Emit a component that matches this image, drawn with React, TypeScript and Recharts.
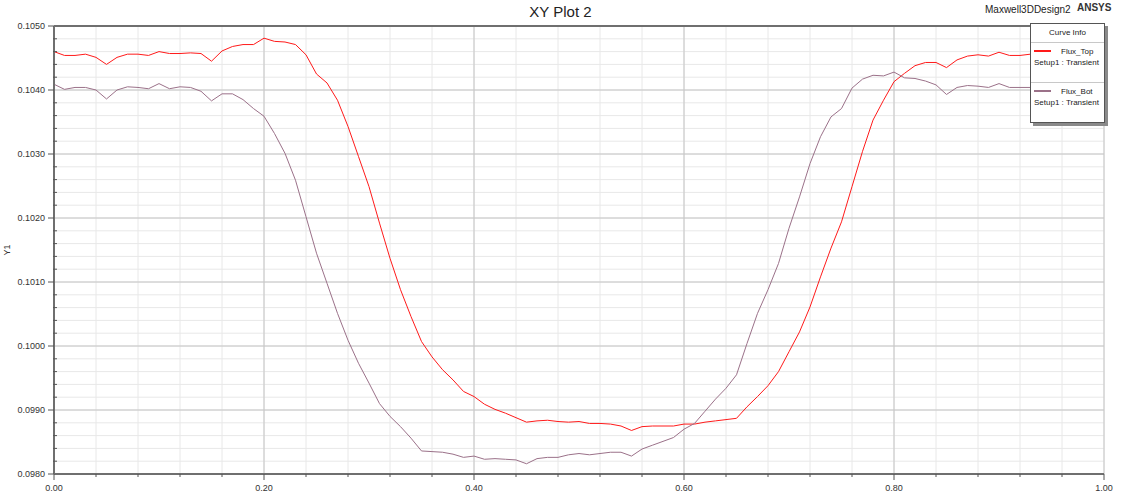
import React from 'react';
import { CartesianGrid, Legend, Line, LineChart, ReferenceLine, XAxis, YAxis } from 'recharts';

// the page keeps the browser's 8px body margin otherwise
if (typeof document !== 'undefined') document.body.style.margin = '0';

// time axis (s) – sampled every 0.01
const TIME = [
  0.0, 0.01, 0.02, 0.03, 0.04, 0.05, 0.06, 0.07, 0.08, 0.09,
  0.1, 0.11, 0.12, 0.13, 0.14, 0.15, 0.16, 0.17, 0.18, 0.19,
  0.2, 0.21, 0.22, 0.23, 0.24, 0.25, 0.26, 0.27, 0.28, 0.29,
  0.3, 0.31, 0.32, 0.33, 0.34, 0.35, 0.36, 0.37, 0.38, 0.39,
  0.4, 0.41, 0.42, 0.43, 0.44, 0.45, 0.46, 0.47, 0.48, 0.49,
  0.5, 0.51, 0.52, 0.53, 0.54, 0.55, 0.56, 0.57, 0.58, 0.59,
  0.6, 0.61, 0.62, 0.63, 0.64, 0.65, 0.66, 0.67, 0.68, 0.69,
  0.7, 0.71, 0.72, 0.73, 0.74, 0.75, 0.76, 0.77, 0.78, 0.79,
  0.8, 0.81, 0.82, 0.83, 0.84, 0.85, 0.86, 0.87, 0.88, 0.89,
  0.9, 0.91, 0.92, 0.93, 0.94, 0.95, 0.96, 0.97, 0.98, 0.99,
  1.0,
];

const FLUX_TOP = [
  0.10460, 0.10454, 0.10454, 0.10456, 0.10451, 0.10440, 0.10451, 0.10456, 0.10456, 0.10454,
  0.10460, 0.10457, 0.10457, 0.10458, 0.10457, 0.10445, 0.10461, 0.10468, 0.10471, 0.10471,
  0.10481, 0.10476, 0.10475, 0.10471, 0.10455, 0.10425, 0.10411, 0.10384, 0.10343, 0.10296,
  0.10249, 0.10192, 0.10137, 0.10088, 0.10046, 0.10007, 0.09983, 0.09963, 0.09947, 0.09929,
  0.09921, 0.09909, 0.09901, 0.09895, 0.09888, 0.09881, 0.09883, 0.09884, 0.09882, 0.09881,
  0.09882, 0.09879, 0.09879, 0.09878, 0.09875, 0.09868, 0.09874, 0.09875, 0.09875, 0.09875,
  0.09878, 0.09878, 0.09881, 0.09883, 0.09885, 0.09887, 0.09905, 0.09921, 0.09938, 0.09960,
  0.09991, 0.10022, 0.10061, 0.10108, 0.10153, 0.10194, 0.10249, 0.10304, 0.10353, 0.10384,
  0.10413, 0.10426, 0.10438, 0.10443, 0.10443, 0.10435, 0.10447, 0.10453, 0.10455, 0.10453,
  0.10459, 0.10454, 0.10454, 0.10456, 0.10455, 0.10457, 0.10456, 0.10458, 0.10457, 0.10456,
  0.10458,
];

const FLUX_BOT = [
  0.10409, 0.10401, 0.10404, 0.10404, 0.10400, 0.10386, 0.10400, 0.10405, 0.10404, 0.10402,
  0.10410, 0.10402, 0.10405, 0.10404, 0.10398, 0.10383, 0.10394, 0.10394, 0.10385, 0.10371,
  0.10359, 0.10332, 0.10301, 0.10259, 0.10202, 0.10145, 0.10098, 0.10051, 0.10009, 0.09973,
  0.09942, 0.09910, 0.09890, 0.09874, 0.09856, 0.09836, 0.09835, 0.09834, 0.09831, 0.09826,
  0.09828, 0.09823, 0.09824, 0.09823, 0.09822, 0.09816, 0.09824, 0.09826, 0.09826, 0.09830,
  0.09832, 0.09830, 0.09832, 0.09834, 0.09834, 0.09828, 0.09839, 0.09845, 0.09851, 0.09857,
  0.09870, 0.09879, 0.09898, 0.09917, 0.09934, 0.09955, 0.10004, 0.10051, 0.10088, 0.10129,
  0.10184, 0.10233, 0.10285, 0.10327, 0.10358, 0.10371, 0.10403, 0.10417, 0.10423, 0.10422,
  0.10428, 0.10419, 0.10418, 0.10414, 0.10408, 0.10393, 0.10404, 0.10407, 0.10406, 0.10404,
  0.10410, 0.10404, 0.10404, 0.10404, 0.10404, 0.10405, 0.10404, 0.10405, 0.10404, 0.10404,
  0.10405,
];

const SERIES_NAMES = ['Flux_Top', 'Flux_Bot'];

const X_TICKS = [
  0.0, 0.04, 0.08, 0.12, 0.16, 0.2, 0.24, 0.28, 0.32, 0.36, 0.4, 0.44, 0.48,
  0.52, 0.56, 0.6, 0.64, 0.68, 0.72, 0.76, 0.8, 0.84, 0.88, 0.92, 0.96, 1.0,
];
const X_MAJOR = [0.2, 0.4, 0.6, 0.8, 1.0];

const Y_TICKS = [
  0.098, 0.0982, 0.0984, 0.0986, 0.0988, 0.099, 0.0992, 0.0994, 0.0996, 0.0998,
  0.1, 0.1002, 0.1004, 0.1006, 0.1008, 0.101, 0.1012, 0.1014, 0.1016, 0.1018,
  0.102, 0.1022, 0.1024, 0.1026, 0.1028, 0.103, 0.1032, 0.1034, 0.1036, 0.1038,
  0.104, 0.1042, 0.1044, 0.1046, 0.1048, 0.105,
];
const Y_MAJOR = [0.099, 0.1, 0.101, 0.102, 0.103, 0.104];

const data = TIME.map((t, i) => ({ t, top: FLUX_TOP[i], bot: FLUX_BOT[i] }));

const FONT = 'Arial, "Liberation Sans", sans-serif';
const TOP_COLOR = '#ff1a1a';
const BOT_COLOR = '#9b7189';

const isMajorX = (v: number) => Math.abs(v * 5 - Math.round(v * 5)) < 1e-6;
const isMajorY = (v: number) => Math.abs(v * 1000 - Math.round(v * 1000)) < 1e-6;

const XTick = (props: any) => {
  const { x, y, payload } = props;
  const major = isMajorX(payload.value);
  return (
    <g>
      <line x1={x} x2={x} y1={y} y2={y + (major ? 6 : 3)} stroke="#555" strokeWidth={1} />
      {major && (
        <text x={x} y={y + 17} textAnchor="middle" fontSize={9} fill="#333" fontFamily={FONT}>
          {payload.value.toFixed(2)}
        </text>
      )}
    </g>
  );
};

const YTick = (props: any) => {
  const { x, y, payload } = props;
  const major = isMajorY(payload.value);
  return (
    <g>
      {major ? (
        <line x1={x - 6} x2={x} y1={y} y2={y} stroke="#555" strokeWidth={1} />
      ) : (
        <line x1={x - 1} x2={x + 3} y1={y} y2={y} stroke="#555" strokeWidth={1} />
      )}
      {major && (
        <text x={x - 9} y={y + 3} textAnchor="end" fontSize={9} fill="#333" fontFamily={FONT}>
          {payload.value.toFixed(4)}
        </text>
      )}
    </g>
  );
};

const CurveInfo = (props: any) => {
  const items = [...(props.payload || [])].sort(
    (a: any, b: any) => SERIES_NAMES.indexOf(a.value) - SERIES_NAMES.indexOf(b.value)
  );
  return (
    <div
      style={{
        width: 73,
        background: '#fff',
        border: '1px solid #555',
        boxShadow: '3px 3px 0 #8a8a8a',
        fontFamily: FONT,
        fontSize: 8,
        color: '#222',
      }}
    >
      <div style={{ height: 18, lineHeight: '18px', textAlign: 'center', borderBottom: '1px solid #c8c8c8' }}>
        Curve Info
      </div>
      {items.map((it: any, i: number) => (
        <div
          key={it.value}
          style={{
            height: 37,
            borderBottom: i < items.length - 1 ? '1px solid #c8c8c8' : 'none',
            paddingLeft: 3,
          }}
        >
          <div style={{ display: 'flex', alignItems: 'center', height: 12, marginTop: 2 }}>
            <span style={{ display: 'inline-block', width: 17, height: 2, background: it.color }} />
            <span style={{ marginLeft: 10 }}>{it.value}</span>
          </div>
          <div style={{ height: 12, lineHeight: '12px' }}>Setup1 : Transient</div>
        </div>
      ))}
    </div>
  );
};

const overlay: React.CSSProperties = { position: 'absolute', zIndex: 5, whiteSpace: 'nowrap', fontFamily: FONT };

export default function App() {
  return (
    <div style={{ position: 'relative', width: 1121, height: 496, fontFamily: FONT }}>
      <LineChart width={1121} height={496} data={data} margin={{ top: 26, right: 17, left: 0, bottom: 0 }}>
        <CartesianGrid stroke="#e8e8e8" strokeWidth={1} />
        {X_MAJOR.map((v) => (
          <ReferenceLine key={'x' + v} x={v} stroke="#c6c6c6" strokeWidth={1} />
        ))}
        {Y_MAJOR.map((v) => (
          <ReferenceLine key={'y' + v} y={v} stroke="#c6c6c6" strokeWidth={1} />
        ))}
        <ReferenceLine y={0.105} stroke="#6f6f6f" strokeWidth={2} />
        <XAxis
          dataKey="t"
          type="number"
          domain={[0, 1]}
          ticks={X_TICKS}
          interval={0}
          height={22}
          tickSize={0}
          tickMargin={0}
          tickLine={false}
          axisLine={{ stroke: '#6f6f6f', strokeWidth: 2 }}
          tick={(p: any) => <XTick {...p} />}
        />
        <YAxis
          type="number"
          domain={[0.098, 0.105]}
          ticks={Y_TICKS}
          interval={0}
          width={54}
          tickSize={0}
          tickMargin={0}
          tickLine={false}
          axisLine={{ stroke: '#6f6f6f', strokeWidth: 2 }}
          tick={(p: any) => <YTick {...p} />}
        />
        <Legend
          layout="horizontal"
          verticalAlign="middle"
          align="center"
          content={(p: any) => <CurveInfo {...p} />}
          wrapperStyle={{ position: 'absolute', left: 1030, top: 23, width: 77, height: 98 }}
        />
        <Line
          type="linear"
          dataKey="top"
          name={SERIES_NAMES[0]}
          stroke={TOP_COLOR}
          strokeWidth={1}
          dot={false}
          isAnimationActive={false}
        />
        <Line
          type="linear"
          dataKey="bot"
          name={SERIES_NAMES[1]}
          stroke={BOT_COLOR}
          strokeWidth={1}
          dot={false}
          isAnimationActive={false}
        />
      </LineChart>
      <div style={{ ...overlay, left: 0, width: 1121, top: 3, height: 18, lineHeight: '18px', textAlign: 'center', fontSize: 15, color: '#222' }}>
        XY Plot 2
      </div>
      <div style={{ ...overlay, left: 985, top: 4, height: 12, lineHeight: '12px', fontSize: 10, color: '#222' }}>
        Maxwell3DDesign2
      </div>
      <div style={{ ...overlay, left: 1077, top: 2, height: 12, lineHeight: '12px', fontSize: 10, fontWeight: 'bold', color: '#333' }}>
        ANSYS
      </div>
      <div
        style={{
          ...overlay,
          left: 1,
          top: 245,
          width: 12,
          height: 10,
          lineHeight: '10px',
          textAlign: 'center',
          fontSize: 9,
          color: '#333',
          transform: 'rotate(-90deg)',
        }}
      >
        Y1
      </div>
    </div>
  );
}
